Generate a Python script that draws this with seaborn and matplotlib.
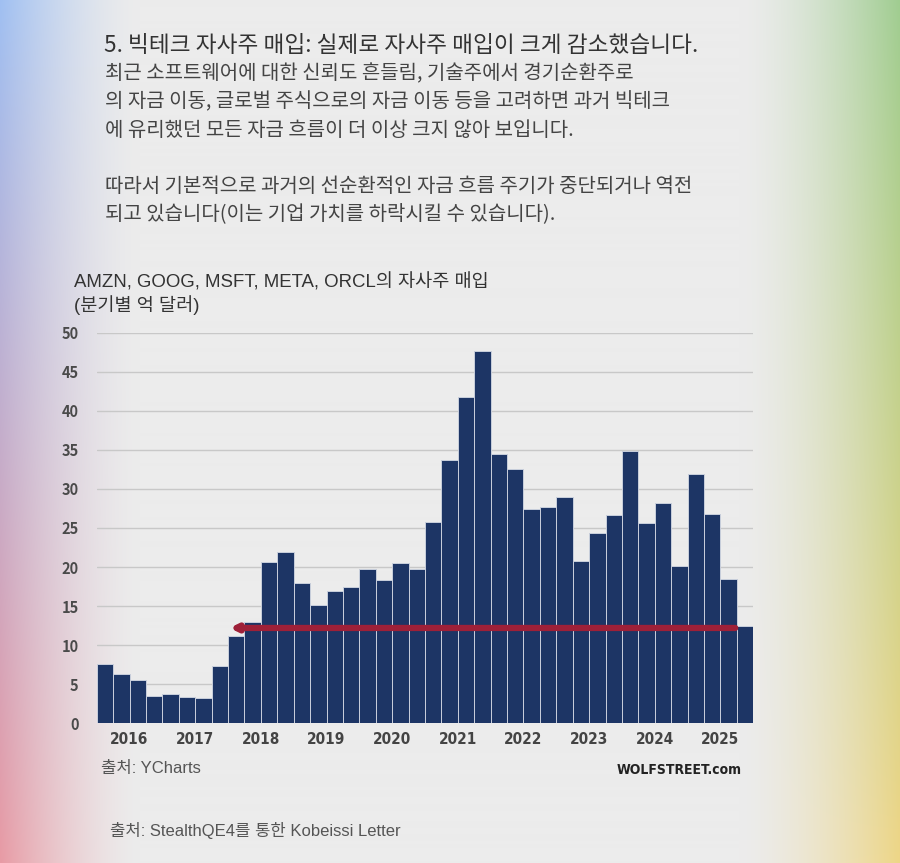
import numpy as np
import pandas as pd
import seaborn as sns
import matplotlib.pyplot as plt

# 분기별 자사주 매입 (억 달러), 2016Q1 ~ 2025Q4
years = [str(y) for y in range(2016, 2026)]
quarters = [f"{y}Q{q}" for y in range(2016, 2026) for q in range(1, 5)]
buybacks = [7.6, 6.3, 5.5, 3.5, 3.75, 3.4, 3.3, 7.3,
            11.2, 12.9, 20.6, 21.9, 18.0, 15.1, 16.9, 17.5,
            19.7, 18.4, 20.5, 19.7, 25.7, 33.7, 41.7, 47.6,
            34.4, 32.5, 27.4, 27.7, 28.9, 20.8, 24.3, 26.7,
            34.9, 25.6, 28.2, 20.1, 31.9, 26.8, 18.5, 12.5]
baseline_level = 12.2   # 빨간 화살표 수준
baseline_from = 38.4    # 화살표 시작 (분기 인덱스)
baseline_to = 7.6       # 화살표 끝

heading = "5. 빅테크 자사주 매입: 실제로 자사주 매입이 크게 감소했습니다."
body = ["최근 소프트웨어에 대한 신뢰도 흔들림, 기술주에서 경기순환주로",
        "의 자금 이동, 글로벌 주식으로의 자금 이동 등을 고려하면 과거 빅테크",
        "에 유리했던 모든 자금 흐름이 더 이상 크지 않아 보입니다.",
        "",
        "따라서 기본적으로 과거의 선순환적인 자금 흐름 주기가 중단되거나 역전",
        "되고 있습니다(이는 기업 가치를 하락시킬 수 있습니다)."]

df = pd.DataFrame({"quarter": quarters, "value": buybacks})

sns.set_theme(style="white")
plt.rcParams['font.family'] = ['Noto Sans CJK KR', 'DejaVu Sans']
latin_kr = ['Liberation Sans', 'Noto Sans CJK KR']

W, H = 900, 863
fig = plt.figure(figsize=(W / 100, H / 100), dpi=100)

"""배경 그라데이션"""
bg = fig.add_axes([0, 0, 1, 1])
xs = np.linspace(0, 1, W)[None, :, None]
ys = np.linspace(0, 1, H)[:, None, None]
gray = np.array([236, 236, 236]) / 255
left_col = (1 - ys) * np.array([160, 192, 242]) / 255 + ys * np.array([232, 155, 165]) / 255
right_col = (1 - ys) * np.array([160, 205, 145]) / 255 + ys * np.array([238, 214, 135]) / 255
wl = np.clip(1 - xs * W / 140, 0, 1) ** 1.5
wr = np.clip((xs * W - 740) / 160, 0, 1) ** 1.5
img = gray * (1 - wl - wr) + left_col * wl + right_col * wr
bg.imshow(np.clip(img, 0, 1), aspect='auto', extent=[0, 1, 0, 1], zorder=-1)
bg.axis('off')


def ftext(x, y, s, **kw):
    fig.text(x / W, 1 - y / H, s, va='center', **kw)


"""상단 텍스트"""
ftext(104, 45, heading, fontsize=16.3, color='#333333')
for i, line in enumerate(body):
    ftext(105, 74 + i * 28.2, line, fontsize=14.4, color='#444444')

ftext(74, 282, "AMZN, GOOG, MSFT, META, ORCL의 자사주 매입", fontsize=13.4, color='#333333',
      family=latin_kr)
ftext(74, 305, "(분기별 억 달러)", fontsize=13.4, color='#333333', family=latin_kr)

"""막대그래프"""
ax = fig.add_axes([96.7 / W, 1 - 723.3 / H, (753.3 - 96.7) / W, (723.3 - 332.6) / H])
ax.set_facecolor('none')
sns.barplot(data=df, x="quarter", y="value", color="#1d3565", width=1.0,
            edgecolor="#c9cfdc", linewidth=0.7, saturation=1, ax=ax, zorder=2)
ax.set_ylim(0, 50)
ax.set_xlim(-0.5, len(quarters) - 0.5)
ax.set_yticks(range(0, 51, 5))
ax.set_yticklabels([str(v) for v in range(0, 51, 5)], fontsize=10.5,
                   fontweight='bold', color='#4a4a4a')
ax.set_xticks([4 * i + 1.5 for i in range(len(years))])
ax.set_xticklabels(years, fontsize=11, fontweight='bold', color='#444444',
                   family='DejaVu Sans', fontstretch='condensed')
ax.tick_params(axis='y', length=0, pad=13)
ax.tick_params(axis='x', length=0, pad=6)
ax.yaxis.grid(True, color='#c8c8c8', linewidth=1)
ax.set_axisbelow(True)
for s in ax.spines.values():
    s.set_visible(False)
ax.set_xlabel("")
ax.set_ylabel("")

ax.annotate("", xy=(baseline_to, baseline_level), xytext=(baseline_from, baseline_level),
            arrowprops=dict(arrowstyle='-|>', color='#9e2038', lw=4.5, mutation_scale=9,
                            shrinkA=0, shrinkB=0), zorder=5)

"""출처"""
ftext(101, 768, "출처: YCharts", fontsize=12, color='#555555', family=latin_kr)
fig.text(742 / W, 1 - 770 / H, "WOLFSTREET.com", fontsize=10, fontweight='bold',
         color='#222222', ha='right', va='center', family='DejaVu Sans',
         fontstretch='condensed')
ftext(110, 830, "출처: StealthQE4를 통한 Kobeissi Letter", fontsize=12, color='#555555',
      family=latin_kr)

plt.savefig('out.png', dpi=100)
